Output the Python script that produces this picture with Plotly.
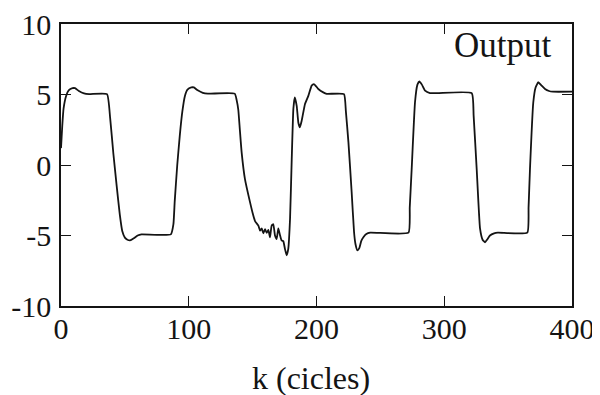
import plotly.graph_objects as go

k_cycles = [0, 1, 2, 4, 6, 9, 11, 14, 18, 22, 36, 38.5, 41, 43.6, 46, 48, 50, 52, 54, 57, 60, 63,
            86, 88, 89, 91, 93, 95, 97, 99, 102, 104, 107, 111, 115,
            136, 137.5, 138.8, 140, 141.4, 144, 148, 150, 152, 154.5, 155.8, 157.1, 158.4, 159.7,
            161, 162.3, 163.6, 164.9, 166.2, 167.5, 168.8, 170.1, 171.4, 172.7, 174, 175.3, 176.6,
            177.9, 179.3, 180.6, 181.9, 183, 184.5, 185.8, 187, 188.4, 191, 193.6, 196.2, 198, 200,
            201.4, 205.3, 208, 221.5, 223, 225, 227.5, 229.4, 230.5, 232, 233.5, 235, 236.7, 239, 242,
            272, 273, 274.5, 277.1, 279, 280.5, 282.5, 285, 288.8,
            321.5, 323, 325.4, 328, 330, 331.9, 333.5, 335.8, 339, 342,
            365, 366, 367.1, 369.7, 371.5, 373.6, 376, 378.9, 382, 385, 400]
output = [1.2, 2.8, 4.0, 4.9, 5.3, 5.45, 5.45, 5.25, 5.08, 5.03, 5.03, 3.3, 0.8, -1.5, -3.5, -4.7, -5.15, -5.3, -5.35, -5.2, -5.0, -4.92,
          -4.92, -4.2, -2.6, 0.0, 2.1, 3.8, 4.9, 5.35, 5.5, 5.5, 5.3, 5.12, 5.06,
          5.06, 4.6, 3.9, 2.5, 0.9, -1.0, -2.65, -3.4, -4.0, -4.3, -4.66, -4.5, -4.84, -4.55,
          -4.82, -4.6, -5.13, -4.3, -4.2, -5.0, -5.25, -4.5, -4.96, -5.35, -5.4, -5.95, -6.4,
          -5.95, -3.8, 0.4, 4.0, 4.8, 4.2, 3.0, 2.67, 3.14, 4.33, 4.9, 5.63, 5.74, 5.55,
          5.39, 5.15, 5.05, 5.03, 3.8, 1.6, -1.9, -4.77, -5.6, -6.05, -5.9, -5.4, -5.13, -4.9, -4.8,
          -4.8, -3.0, -0.3, 4.45, 5.7, 5.93, 5.7, 5.27, 5.1,
          5.1, 3.5, -0.3, -4.5, -5.3, -5.48, -5.3, -5.0, -4.85, -4.8,
          -4.8, -3.0, -0.3, 4.45, 5.5, 5.87, 5.65, 5.39, 5.25, 5.2, 5.2]

x_ticks = [0, 100, 200, 300, 400]
x_tick_labels = ["0", "100", "200", "300", "400"]
y_ticks = [-10, -5, 0, 5, 10]
y_tick_labels = ["-10", "-5", "0", "5", "10"]

serif = "Liberation Serif, Times New Roman, serif"
ink = "#141414"

fig = go.Figure()
fig.add_trace(go.Scatter(x=k_cycles, y=output, mode="lines",
                         line=dict(color=ink, width=1.8, shape="spline", smoothing=0.4),
                         showlegend=False, hoverinfo="skip"))

axis_common = dict(showline=True, linecolor=ink, linewidth=1.5, mirror="ticks",
                   ticks="inside", ticklen=10, tickwidth=1.3, tickcolor=ink,
                   showgrid=False, zeroline=False, automargin=False,
                   ticklabeloverflow="allow",
                   tickfont=dict(family=serif, size=30, color=ink))

# the page body adds an 8px offset, so the figure is sized 592x387
fig.update_layout(
    width=592, height=387,
    margin=dict(l=53, r=28, t=16, b=89),
    paper_bgcolor="white", plot_bgcolor="white",
    xaxis=dict(range=[0, 400], tickvals=x_ticks, ticktext=x_tick_labels,
               ticklabelstandoff=-5, **axis_common),
    yaxis=dict(range=[-10, 10], tickvals=y_ticks, ticktext=y_tick_labels,
               ticklabelstandoff=2, **axis_common),
    annotations=[
        dict(text="Output", x=0.965, y=0.925, xref="paper", yref="paper",
             xanchor="right", yanchor="middle", showarrow=False,
             font=dict(family=serif, size=35, color=ink)),
        dict(text="k (cicles)", x=0.489, y=-0.255, xref="paper", yref="paper",
             xanchor="center", yanchor="middle", showarrow=False,
             font=dict(family=serif, size=32, color=ink)),
    ],
)

fig.write_html("out.html")
